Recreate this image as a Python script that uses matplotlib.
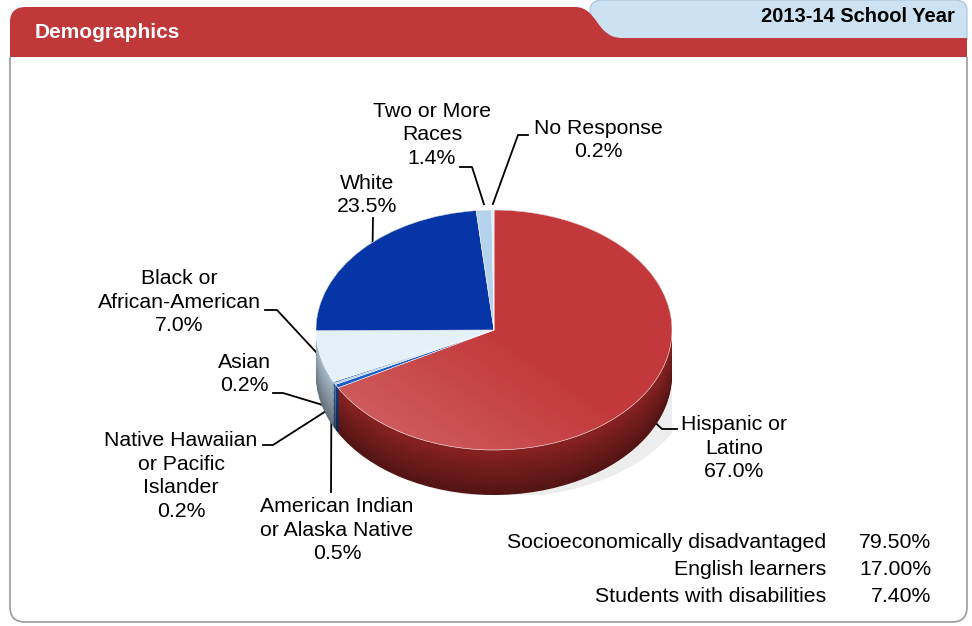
import matplotlib
matplotlib.use("Agg")
import matplotlib.pyplot as plt
import numpy as np
from matplotlib.path import Path
from matplotlib.patches import PathPatch, Ellipse
from matplotlib.colors import to_rgb

plt.rcParams['font.family'] = ['Liberation Sans', 'DejaVu Sans']

# data
groups = ["Hispanic or\nLatino", "American Indian\nor Alaska Native",
          "Native Hawaiian\nor Pacific\nIslander", "Asian",
          "Black or\nAfrican-American", "White", "Two or More\nRaces", "No Response"]
shares = [67.0, 0.5, 0.2, 0.2, 7.0, 23.5, 1.4, 0.2]
stat_names = ["Socioeconomically disadvantaged", "English learners", "Students with disabilities"]
stat_values = [79.50, 17.00, 7.40]
title = "Demographics"
year = "2013-14 School Year"

top_colors = ['#C3393B', '#1D5FC8', '#9EC3E6', '#2F6FD0', '#E4F0FA', '#0535A6', '#B4D2EC', '#DCEAF6']
side_colors = ['#8A2222', '#123C80', '#6E8FB0', '#1D4A90', '#A9BCCB', '#03216A', '#7E9AB4', '#9FB0C0']

# label layout (pixel coords), leader elbows, anchor tweaks
label_xy = [(734, 448), (337, 530), (181, 476), (244, 374), (179, 302), (367, 195), (432, 135), (598, 140)]
elbows = [[(677, 429), (662, 429)], [(331, 492)], [(263, 445), (273, 445)], [(273, 393), (283, 393)],
          [(265, 310), (277, 310)], [(373, 218)], [(460, 167), (472, 167)], [(528, 135), (518, 135)]]
anchor_ang = [None, -156, -156, -156, None, 133, None, None]
anchor_drop = [0.2, 0.24, 0.24, 0.24, 0.0, 0.0, -0.05, -0.05]

W, H = 972, 626
fig = plt.figure(figsize=(W / 100, H / 100), dpi=100)
ax = fig.add_axes([0, 0, 1, 1])
ax.set_xlim(0, W)
ax.set_ylim(H, 0)
ax.axis('off')

# panel frame
frame = Path([(10, 57), (10, 607), (10, 622), (25, 622), (952, 622), (967, 622), (967, 607), (967, 57)],
             [Path.MOVETO, Path.LINETO, Path.CURVE3, Path.CURVE3, Path.LINETO, Path.CURVE3, Path.CURVE3, Path.LINETO])
ax.add_patch(PathPatch(frame, facecolor='white', edgecolor='#9A9A9A', lw=1.2, zorder=1))

# blue year tab
blue = Path([(590, 40), (590, 10), (590, 0), (602, 0), (955, 0), (967, 0), (967, 10), (967, 40), (590, 40)],
            [Path.MOVETO, Path.LINETO, Path.CURVE3, Path.CURVE3, Path.LINETO, Path.CURVE3, Path.CURVE3,
             Path.LINETO, Path.CLOSEPOLY])
ax.add_patch(PathPatch(blue, facecolor='#CCE1F1', edgecolor='#A9C4DA', lw=0.8, zorder=2))

# red header band
red = Path([(10, 57), (10, 22), (10, 7), (26, 7), (575, 7), (598, 7), (596, 38), (622, 38),
            (967, 38), (967, 57), (10, 57)],
           [Path.MOVETO, Path.LINETO, Path.CURVE3, Path.CURVE3, Path.LINETO, Path.CURVE4, Path.CURVE4,
            Path.CURVE4, Path.LINETO, Path.LINETO, Path.CLOSEPOLY])
ax.add_patch(PathPatch(red, facecolor='#C0383A', edgecolor='none', zorder=3))

ax.text(35, 32, title, color='white', fontsize=15, fontweight='bold', va='center', ha='left', zorder=4)
ax.text(955, 17, year, color='black', fontsize=14.5, fontweight='bold', va='center', ha='right', zorder=4)

# 3D-ish pie
depth = 0.375
pax = fig.add_axes([316 / W, (H - 495) / H, 356 / W, 285 / H])
pax.add_patch(Ellipse((0.06, -depth - 0.02), 2.12, 2.0, facecolor='#000000', alpha=0.07, lw=0))
n_layers = 40
for k in range(n_layers):
    t = k / (n_layers - 1)
    cols = [tuple(np.array(to_rgb(c)) * (0.6 + 0.4 * t)) for c in side_colors]
    pax.pie(shares, colors=cols, startangle=90, counterclock=False, center=(0, -depth * (1 - t)),
            wedgeprops=dict(linewidth=0))
wedges, _ = pax.pie(shares, colors=top_colors, startangle=90, counterclock=False,
                    wedgeprops=dict(linewidth=0.4, edgecolor='white'))

# soft highlight toward the lower-left of the red face
gx, gy = np.meshgrid(np.linspace(-1, 1, 200), np.linspace(-1, 1, 200))
glow = np.zeros((200, 200, 4))
glow[..., :3] = 1.0
glow[..., 3] = np.clip(-(gx + gy) * 0.12, 0, 0.2)
img = pax.imshow(glow, extent=(-1, 1, -1, 1), origin='lower', zorder=5)
img.set_clip_path(wedges[0])

pax.set_aspect('auto')
pax.set_xlim(-1, 1)
pax.set_ylim(-1 - depth, 1)
pax.axis('off')

# labels and leader lines
theta = 90 - np.concatenate([[0], np.cumsum(shares)]) * 3.6
mids = (theta[:-1] + theta[1:]) / 2
to_px = pax.transData + ax.transData.inverted()
for i, name in enumerate(groups):
    a = np.deg2rad(anchor_ang[i] if anchor_ang[i] is not None else mids[i])
    end = to_px.transform((np.cos(a), np.sin(a) - anchor_drop[i]))
    pts = np.array(elbows[i] + [tuple(end)])
    ax.plot(pts[:, 0], pts[:, 1], color='black', lw=1.3, zorder=6)
    ax.text(label_xy[i][0], label_xy[i][1], f"{name}\n{shares[i]:.1f}%", ha='center', va='center',
            multialignment='center', fontsize=15.3, linespacing=1.33, zorder=6)

# summary table
for j, (nm, v) in enumerate(zip(stat_names, stat_values)):
    y = 543 + j * 26.5
    ax.text(826, y, nm, ha='right', va='center', fontsize=15.3, zorder=6)
    ax.text(931, y, f"{v:.2f}%", ha='right', va='center', fontsize=15.3, zorder=6)

fig.savefig('out.png', dpi=100)
